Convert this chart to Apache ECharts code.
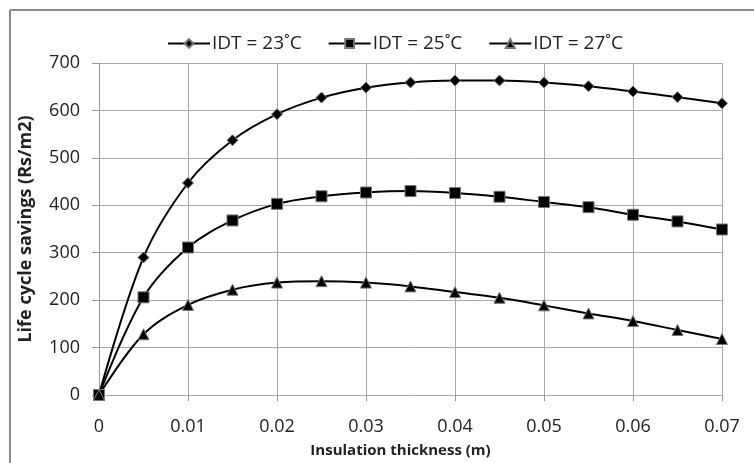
<!DOCTYPE html>
<html><head><meta charset="utf-8">
<script src="https://cdn.jsdelivr.net/npm/echarts@6/dist/echarts.min.js"></script>
<style>html,body{margin:0;padding:0;background:#fff}#c{width:754px;height:463px}</style>
</head><body><div id="c"></div>
<script>
const thickness = [0,0.005,0.01,0.015,0.02,0.025,0.03,0.035,0.04,0.045,0.05,0.055,0.06,0.065,0.07];
const idt23 = [0,290,447,537,592,627,648,659,663,663,659,651,640,628,615];
const idt25 = [0,206,311,368,403,419,427,430,426,418,407,396,380,366,349];
const idt27 = [0,128,190,222,237,240,237,229,217,205,189,172,156,137,118];
const seriesNames = ['IDT = 23˚C','IDT = 25˚C','IDT = 27˚C'];
const xTitle = 'Insulation thickness (m)';
const yTitle = 'Life cycle savings (Rs/m2)';
const font = 'Open Sans';
function pairs(v){return thickness.map((x,i)=>[x,v[i]]);}
const chart = echarts.init(document.getElementById('c'));
const mk = (name, data, symbol, size) => ({
  name, type:'line', data:pairs(data), smooth:0.35, symbol, symbolSize:size,
  lineStyle:{color:'#000',width:2}, itemStyle:{color:'#000',borderColor:'#777',borderWidth:1},
  emphasis:{disabled:true}, z:3
});
chart.setOption({
  animation:false,
  textStyle:{fontFamily:font},
  graphic:[
    {type:'line',shape:{x1:10,y1:10,x2:754,y2:10},style:{stroke:'#8a8a8a',lineWidth:2}},
    {type:'line',shape:{x1:10,y1:10,x2:10,y2:463},style:{stroke:'#8a8a8a',lineWidth:2}}
  ],
  legend:{top:29,left:162,itemGap:26,itemWidth:42,itemHeight:11,
    textStyle:{fontFamily:font,fontSize:19,color:'#222',padding:[0,0,0,-3]},
    data:seriesNames},
  grid:{left:99,right:32,top:63,bottom:67,containLabel:false},
  xAxis:{type:'value',min:0,max:0.07,interval:0.01,
    name:xTitle,nameLocation:'middle',nameGap:48,
    nameTextStyle:{fontFamily:font,fontSize:15,fontWeight:'bold',color:'#222',padding:[0,0,0,-20]},
    axisLine:{show:false},
    axisTick:{show:true,length:6,inside:false,lineStyle:{color:'#999'}},
    axisLabel:{fontSize:18,color:'#222',margin:23,formatter:v=>String(+v.toFixed(2))},
    splitLine:{show:true,lineStyle:{color:'#aaa',width:1}}},
  yAxis:{type:'value',min:0,max:700,interval:100,
    name:yTitle,nameLocation:'middle',nameGap:64,
    nameTextStyle:{fontFamily:font,fontSize:18,fontWeight:'bold',color:'#222'},
    axisLine:{show:true,lineStyle:{color:'#999'}},
    axisTick:{show:true,length:7,lineStyle:{color:'#999'}},
    axisLabel:{fontSize:18,color:'#222',margin:19},
    splitLine:{show:true,lineStyle:{color:'#aaa',width:1}}},
  series:[
    mk(seriesNames[0],idt23,'diamond',11),
    mk(seriesNames[1],idt25,'rect',11),
    mk(seriesNames[2],idt27,'triangle',11)
  ]
});
</script></body></html>
